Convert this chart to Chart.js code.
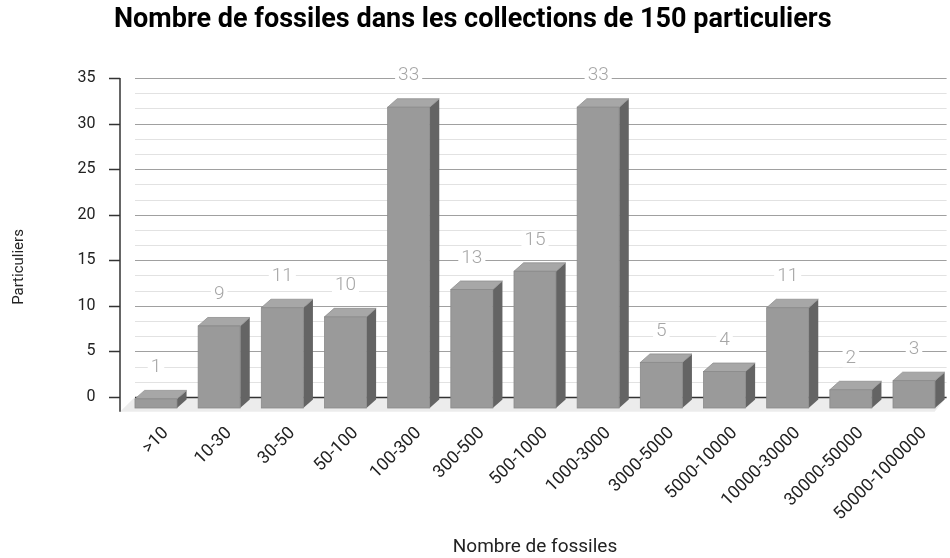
<!DOCTYPE html>
<html><head><meta charset="utf-8">
<script src="https://cdn.jsdelivr.net/npm/chart.js@4.4.0/dist/chart.umd.min.js"></script>
<style>html,body{margin:0;padding:0;background:#fff;}</style>
</head><body>
<canvas id="c" width="950" height="558"></canvas>
<script>
const categories = ['>10','10-30','30-50','50-100','100-300','300-500','500-1000','1000-3000','3000-5000','5000-10000','10000-30000','30000-50000','50000-1000000'];
const counts = [1, 9, 11, 10, 33, 13, 15, 33, 5, 4, 11, 2, 3];
const yMax = 35;
const yStep = 5;
const minorPerMajor = 3;
const titleText = 'Nombre de fossiles dans les collections de 150 particuliers';
const xTitle = 'Nombre de fossiles';
const yTitle = 'Particuliers';

const DX = 9.6, DY = 8.5, FRONT_DY = 11, FLOOR_D = 14.7, AXIS_SHIFT = 4.4, WALL_SHIFT = 10.6;

const bar3d = {
  id: 'bar3d',
  beforeDatasetsDraw(chart) {
    const ctx = chart.ctx, ca = chart.chartArea, ys = chart.scales.y;
    const y0 = ys.getPixelForValue(0);
    const wl = ca.left + WALL_SHIFT, wr = ca.right + 1;
    ctx.save();
    ctx.fillStyle = '#ececec';
    ctx.beginPath();
    ctx.moveTo(wl, y0); ctx.lineTo(wr, y0);
    ctx.lineTo(wr - 12, y0 + FLOOR_D); ctx.lineTo(ca.left - AXIS_SHIFT, y0 + FLOOR_D);
    ctx.closePath(); ctx.fill();
    const minorStep = yStep / minorPerMajor;
    for (let k = 1; k * minorStep < yMax - 1e-6; k++) {
      if (k % minorPerMajor === 0) continue;
      const y = Math.round(ys.getPixelForValue(k * minorStep)) + 0.5;
      ctx.strokeStyle = '#e2e2e2'; ctx.lineWidth = 1.2;
      ctx.beginPath(); ctx.moveTo(wl, y); ctx.lineTo(wr, y); ctx.stroke();
    }
    for (let v = yStep; v <= yMax; v += yStep) {
      const y = Math.round(ys.getPixelForValue(v)) + 0.5;
      ctx.strokeStyle = '#a0a0a0'; ctx.lineWidth = 1.2;
      ctx.beginPath(); ctx.moveTo(wl, y); ctx.lineTo(wr, y); ctx.stroke();
    }
    ctx.strokeStyle = '#333'; ctx.lineWidth = 1.3;
    ctx.beginPath(); ctx.moveTo(wl, Math.round(y0) + 0.5); ctx.lineTo(wr, Math.round(y0) + 0.5); ctx.stroke();
    const ax = ca.left - AXIS_SHIFT;
    ctx.strokeStyle = '#333'; ctx.lineWidth = 1.5;
    ctx.beginPath(); ctx.moveTo(ax, ys.getPixelForValue(yMax)); ctx.lineTo(ax, y0 + FLOOR_D); ctx.stroke();
    for (let v = 0; v <= yMax; v += yStep) {
      const y = Math.round(ys.getPixelForValue(v)) + 0.5;
      ctx.beginPath(); ctx.moveTo(ax - 11, y); ctx.lineTo(ax, y); ctx.stroke();
    }
    ctx.restore();
  },
  afterDatasetsDraw(chart) {
    const ctx = chart.ctx, ca = chart.chartArea;
    const meta = chart.getDatasetMeta(0);
    ctx.save();
    meta.data.forEach((el, i) => {
      const p = el.getProps(['x', 'y', 'base', 'width'], true);
      const l = p.x - p.width / 2, r = p.x + p.width / 2;
      const t = p.y + FRONT_DY, b = p.base + FRONT_DY;
      ctx.fillStyle = '#646464';
      ctx.beginPath();
      ctx.moveTo(r, t); ctx.lineTo(r + DX, t - DY); ctx.lineTo(r + DX, b - DY); ctx.lineTo(r, b);
      ctx.closePath(); ctx.fill();
      ctx.fillStyle = '#a7a7a7';
      ctx.beginPath();
      ctx.moveTo(l, t); ctx.lineTo(r, t); ctx.lineTo(r + DX, t - DY); ctx.lineTo(l + DX, t - DY);
      ctx.closePath(); ctx.fill();
      ctx.strokeStyle = '#8f8f8f'; ctx.lineWidth = 0.8; ctx.stroke();
      ctx.fillStyle = '#9a9a9a';
      ctx.fillRect(l, t, r - l, b - t);
      ctx.strokeStyle = '#8a8a8a'; ctx.lineWidth = 0.8;
      ctx.strokeRect(l, t, r - l, b - t);
      const txt = String(counts[i]);
      ctx.font = '300 19px Roboto';
      const tw = ctx.measureText(txt).width;
      const ly = t - 31.5;
      ctx.fillStyle = '#fff';
      ctx.fillRect(p.x - tw / 2 - 3, ly - 9, tw + 6, 18);
      ctx.fillStyle = '#a6a6a6';
      ctx.textAlign = 'center'; ctx.textBaseline = 'middle';
      ctx.fillText(txt, p.x, ly);
    });
    ctx.fillStyle = '#222';
    ctx.textAlign = 'center'; ctx.textBaseline = 'middle';
    ctx.font = '19px Roboto';
    ctx.fillText(xTitle, 535, 547);
    ctx.save();
    ctx.translate(19.5, 267);
    ctx.rotate(-Math.PI / 2);
    ctx.font = '15px Roboto';
    ctx.fillText(yTitle, 0, 0);
    ctx.restore();
    ctx.restore();
  }
};

new Chart(document.getElementById('c'), {
  type: 'bar',
  data: {
    labels: categories,
    datasets: [{ data: counts, backgroundColor: 'rgba(0,0,0,0)', borderWidth: 0,
                 categoryPercentage: 1, barPercentage: 0.665 }]
  },
  options: {
    responsive: false,
    animation: false,
    events: [],
    layout: { padding: { left: 0, right: 4.4, top: 0, bottom: 0 } },
    plugins: {
      legend: { display: false },
      tooltip: { enabled: false },
      title: {
        display: true,
        text: titleText,
        font: { family: 'Roboto', size: 27, weight: 'bold' },
        color: '#000',
        padding: { top: 4, bottom: 41.6 }
      }
    },
    scales: {
      x: {
        grid: { display: false, drawTicks: false },
        border: { display: false },
        ticks: {
          autoSkip: false, minRotation: 45, maxRotation: 45,
          font: { family: 'Roboto', size: 17.5 }, color: '#222',
          padding: 26, labelOffset: 10
        },
        afterFit: (s) => { s.height = 161; s.paddingLeft = 0; s.paddingRight = 0; }
      },
      y: {
        min: 0, max: yMax,
        grid: { display: false, drawTicks: false },
        border: { display: false },
        ticks: {
          stepSize: yStep, padding: 29,
          font: { family: 'Roboto', size: 16 }, color: '#222'
        },
        afterFit: (s) => { s.width = 124.4; s.paddingTop = 0; s.paddingBottom = 0; }
      }
    }
  },
  plugins: [bar3d]
});
</script>
</body></html>
